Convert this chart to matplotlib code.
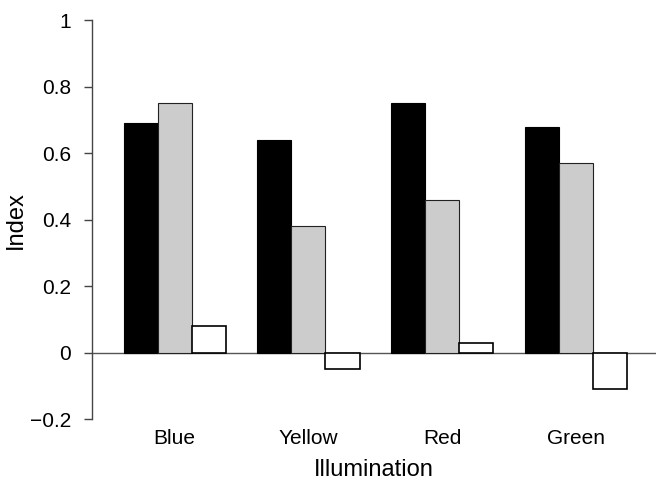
import numpy as np
import matplotlib.pyplot as plt

plt.rcParams['font.family'] = ['Liberation Sans', 'DejaVu Sans']

# data
categories = ['Blue', 'Yellow', 'Red', 'Green']
series_black = [0.69, 0.64, 0.75, 0.68]
series_gray = [0.75, 0.38, 0.46, 0.57]
series_white = [0.08, -0.05, 0.03, -0.11]
y_ticks = [-0.2, 0, 0.2, 0.4, 0.6, 0.8, 1]
y_tick_labels = ['\u22120.2', '0', '0.2', '0.4', '0.6', '0.8', '1']

fig = plt.figure(figsize=(6.56, 4.8), dpi=100)
ax = fig.add_axes([0.140, 0.127, 0.860, 0.831])

x = np.arange(len(categories))
w = 0.255
ax.bar(x - w, series_black, w, color='black', edgecolor='black', linewidth=0.8)
ax.bar(x, series_gray, w, color='#cccccc', edgecolor='#222222', linewidth=0.8)
ax.bar(x + w, series_white, w, color='white', edgecolor='black', linewidth=1.2)

# zero line across the plot
ax.axhline(0, color='#555555', linewidth=1, zorder=0)

ax.set_xlim(-0.62, 3.6)
ax.set_ylim(-0.2, 1)
ax.set_yticks(y_ticks)
ax.set_yticklabels(y_tick_labels, fontsize=15)
ax.set_xticks(x)
ax.set_xticklabels(categories, fontsize=15)
ax.tick_params(axis='x', length=0, pad=7)
ax.tick_params(axis='y', length=6, width=1, color='#444444', pad=9)

for s in ['top', 'right', 'bottom']:
    ax.spines[s].set_visible(False)
ax.spines['left'].set_color('#444444')
ax.spines['left'].set_linewidth(1)

ax.set_xlabel('Illumination', fontsize=17, labelpad=8)
ax.set_ylabel('Index', fontsize=17, labelpad=2)

fig.savefig('out.png', dpi=100)
